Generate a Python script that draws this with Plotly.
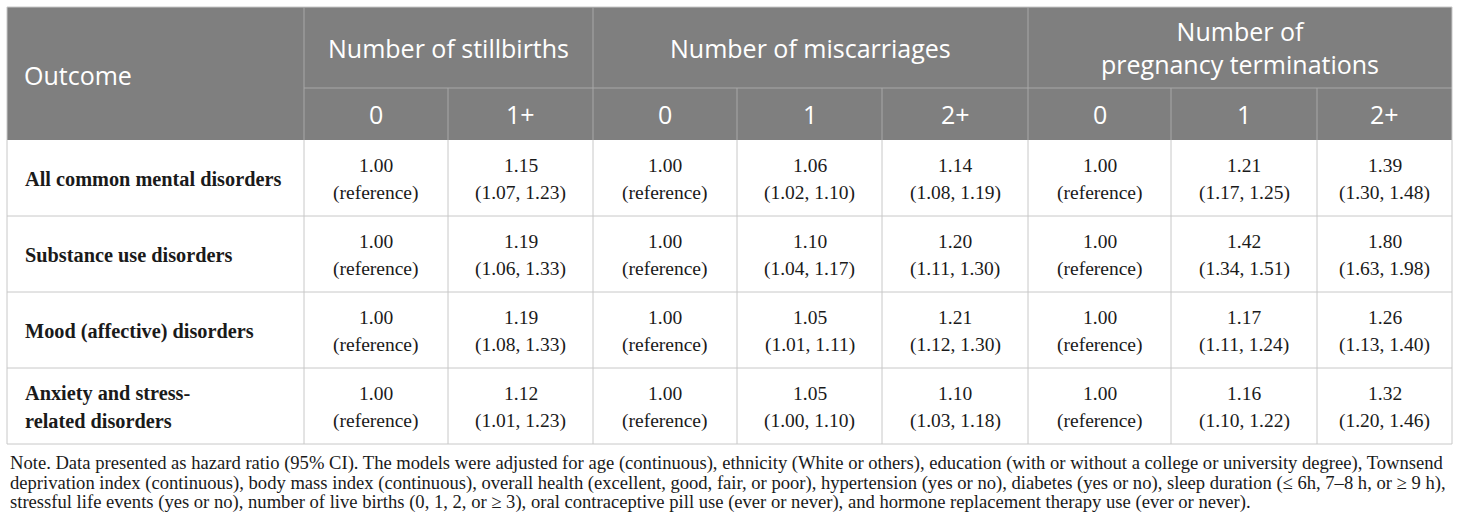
import plotly.graph_objects as go

# ---- data ----
outcomes = [
    "All common mental disorders",
    "Substance use disorders",
    "Mood (affective) disorders",
    "Anxiety and stress-<br>related disorders",
]
groups = ["Number of stillbirths", "Number of miscarriages", "Number of<br>pregnancy terminations"]
group_sizes = [2, 3, 3]
subcols = ["0", "1+", "0", "1", "2+", "0", "1", "2+"]

# hazard ratios, columns follow subcols (reference groups are 1.00)
hazard_ratio = [
    [1.00, 1.15, 1.00, 1.06, 1.14, 1.00, 1.21, 1.39],
    [1.00, 1.19, 1.00, 1.10, 1.20, 1.00, 1.42, 1.80],
    [1.00, 1.19, 1.00, 1.05, 1.21, 1.00, 1.17, 1.26],
    [1.00, 1.12, 1.00, 1.05, 1.10, 1.00, 1.16, 1.32],
]
ci_low = [
    [None, 1.07, None, 1.02, 1.08, None, 1.17, 1.30],
    [None, 1.06, None, 1.04, 1.11, None, 1.34, 1.63],
    [None, 1.08, None, 1.01, 1.12, None, 1.11, 1.13],
    [None, 1.01, None, 1.00, 1.03, None, 1.10, 1.20],
]
ci_high = [
    [None, 1.23, None, 1.10, 1.19, None, 1.25, 1.48],
    [None, 1.33, None, 1.17, 1.30, None, 1.51, 1.98],
    [None, 1.33, None, 1.11, 1.30, None, 1.24, 1.40],
    [None, 1.23, None, 1.10, 1.18, None, 1.22, 1.46],
]

note_lines = [
    "Note. Data presented as hazard ratio (95% CI). The models were adjusted for age (continuous), ethnicity (White or others), education (with or without a college or university degree), Townsend",
    "deprivation index (continuous), body mass index (continuous), overall health (excellent, good, fair, or poor), hypertension (yes or no), diabetes (yes or no), sleep duration (≤ 6h, 7–8 h, or ≥ 9 h),",
    "stressful life events (yes or no), number of live births (0, 1, 2, or ≥ 3), oral contraceptive pill use (ever or never), and hormone replacement therapy use (ever or never).",
]

# ---- layout (pixels) ----
W, H = 1460, 531
col_edges = [7, 304, 448, 593, 737, 882, 1028, 1171, 1317, 1452]
top, head_split, head_end = 7, 88, 140
row_h = 76
row_edges = [head_end + i * row_h for i in range(len(outcomes) + 1)]

head_fill = "#7f7f7f"
head_line = "#a8a8a8"
body_line = "#c8c8c8"
text_col = "#1a1a1a"
sans = "Open Sans"
serif = "Liberation Serif"
head_size = 25
cell_size = 19.5
label_size = 20.3
note_size = 18.6

shapes = []
ann = []


def line(x0, y0, x1, y1, color):
    shapes.append(dict(type="line", x0=x0, y0=y0, x1=x1, y1=y1, xref="x", yref="y",
                       line=dict(color=color, width=1)))


def text(x, y, s, size, color, family, xanchor="center", bold=False):
    if bold:
        s = "<b>" + s + "</b>"
    ann.append(dict(x=x, y=y, text=s, showarrow=False, xref="x", yref="y",
                    xanchor=xanchor, yanchor="middle", align="center" if xanchor == "center" else xanchor,
                    font=dict(size=size, color=color, family=family)))


# header background
shapes.append(dict(type="rect", x0=col_edges[0], x1=col_edges[-1], y0=top, y1=head_end,
                   xref="x", yref="y", fillcolor=head_fill, line=dict(width=0), layer="below"))
line(col_edges[0], top, col_edges[-1], top, body_line)
line(col_edges[1], head_split, col_edges[-1], head_split, head_line)

# group header cells
start = 1
group_bounds = []
for g, n in zip(groups, group_sizes):
    x0, x1 = col_edges[start], col_edges[start + n]
    group_bounds.append(start)
    line(x0, top, x0, head_end, head_line)
    text((x0 + x1) / 2, (top + head_split) / 2, g, head_size, "white", sans)
    start += n

# sub column headers
for j, s in enumerate(subcols):
    x0, x1 = col_edges[j + 1], col_edges[j + 2]
    if (j + 1) not in group_bounds:
        line(x0, head_split, x0, head_end, head_line)
    text((x0 + x1) / 2, (head_split + head_end) / 2, s, head_size, "white", sans)

text(col_edges[0] + 15, (top + head_end) / 2 + 1, "Outcome", head_size, "white", sans, xanchor="left")

# body grid
for y in row_edges[1:]:
    line(col_edges[0], y, col_edges[-1], y, body_line)
for x in col_edges:
    line(x, head_end, x, row_edges[-1], body_line)
line(col_edges[0], top, col_edges[0], head_end, body_line)
line(col_edges[-1], top, col_edges[-1], head_end, body_line)

# body cells
for i, name in enumerate(outcomes):
    yc = (row_edges[i] + row_edges[i + 1]) / 2 + 1
    parts = name.split("<br>")
    if len(parts) == 1:
        text(col_edges[0] + 16, yc, name, label_size, text_col, serif, xanchor="left", bold=True)
    else:
        text(col_edges[0] + 16, yc - 14, parts[0], label_size, text_col, serif, xanchor="left", bold=True)
        text(col_edges[0] + 16, yc + 14, parts[1], label_size, text_col, serif, xanchor="left", bold=True)
    for j in range(len(subcols)):
        xc = (col_edges[j + 1] + col_edges[j + 2]) / 2
        hr = hazard_ratio[i][j]
        if ci_low[i][j] is None:
            ci = "(reference)"
        else:
            ci = f"({ci_low[i][j]:.2f}, {ci_high[i][j]:.2f})"
        text(xc, yc - 14, f"{hr:.2f}", cell_size, text_col, serif)
        text(xc, yc + 14, ci, cell_size, text_col, serif)

# note
for k, s in enumerate(note_lines):
    text(8, 463 + k * 19.5, s, note_size, text_col, serif, xanchor="left")

fig = go.Figure()
fig.update_layout(
    width=W, height=H,
    margin=dict(l=0, r=0, t=0, b=0),
    paper_bgcolor="white", plot_bgcolor="white",
    xaxis=dict(range=[0, W], visible=False, fixedrange=True),
    yaxis=dict(range=[H, 0], visible=False, fixedrange=True),
    shapes=shapes, annotations=ann, showlegend=False,
)
fig.write_html("out.html", config={"displayModeBar": False},
               post_script="document.body.style.margin='0';")
